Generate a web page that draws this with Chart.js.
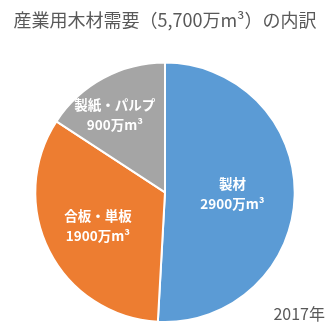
<!DOCTYPE html>
<html>
<head>
<meta charset="utf-8">
<script src="https://cdn.jsdelivr.net/npm/chart.js@4/dist/chart.umd.min.js"></script>
<style>
  html, body { margin: 0; padding: 0; background: #fff; }
  #wrap { width: 335px; height: 331px; }
</style>
</head>
<body>
<div id="wrap"><canvas id="grafico"></canvas></div>
<script>
const categorias = ["製材", "合板・単板", "製紙・パルプ"];
const valores = [2900, 1900, 900];
const rotulos = ["2900万m³", "1900万m³", "900万m³"];
const cores = ["#5B9BD5", "#ED7D31", "#A5A5A5"];
const titulo = "産業用木材需要（5,700万m³）の内訳";
const ano = "2017年";

const fonte = "'Noto Sans CJK JP', 'Noto Sans', sans-serif";

// rotulos dentro das fatias
const pluginRotulos = {
  id: "rotulos",
  afterDatasetsDraw(chart, args, opts) {
    const ctx = chart.ctx;
    const meta = chart.getDatasetMeta(0);
    ctx.save();
    ctx.fillStyle = "#fff";
    ctx.textAlign = "center";
    ctx.textBaseline = "middle";
    ctx.font = "bold 13.5px " + fonte;
    meta.data.forEach((arc, i) => {
      const p = arc.getProps(["x", "y", "startAngle", "endAngle", "outerRadius"], true);
      const meio = (p.startAngle + p.endAngle) / 2 + opts.giro[i];
      const r = p.outerRadius * opts.raio[i];
      const x = p.x + Math.cos(meio) * r;
      const y = p.y + Math.sin(meio) * r;
      ctx.fillText(categorias[i], x, y - 10);
      ctx.fillText(rotulos[i], x, y + 10);
    });
    ctx.restore();
  },
  afterDraw(chart) {
    const ctx = chart.ctx;
    ctx.save();
    ctx.fillStyle = "#595959";
    ctx.font = "16px " + fonte;
    ctx.textAlign = "right";
    ctx.textBaseline = "middle";
    ctx.fillText(ano, 325, 314);
    ctx.restore();
  }
};

new Chart(document.getElementById("grafico"), {
  type: "pie",
  data: {
    labels: categorias,
    datasets: [{
      data: valores,
      backgroundColor: cores,
      borderColor: "#fff",
      borderWidth: 2
    }]
  },
  options: {
    responsive: true,
    maintainAspectRatio: false,
    animation: false,
    layout: { padding: { left: 0, right: 5, bottom: 8 } },
    plugins: {
      legend: { display: false },
      tooltip: { enabled: false },
      title: {
        display: true,
        text: titulo,
        color: "#595959",
        font: { family: fonte, size: 18, weight: "normal" },
        padding: { top: 9, bottom: 31 }
      },
      rotulos: { raio: [0.52, 0.58, 0.71], giro: [0, 0, -0.08] }
    }
  },
  plugins: [pluginRotulos]
});
</script>
</body>
</html>
